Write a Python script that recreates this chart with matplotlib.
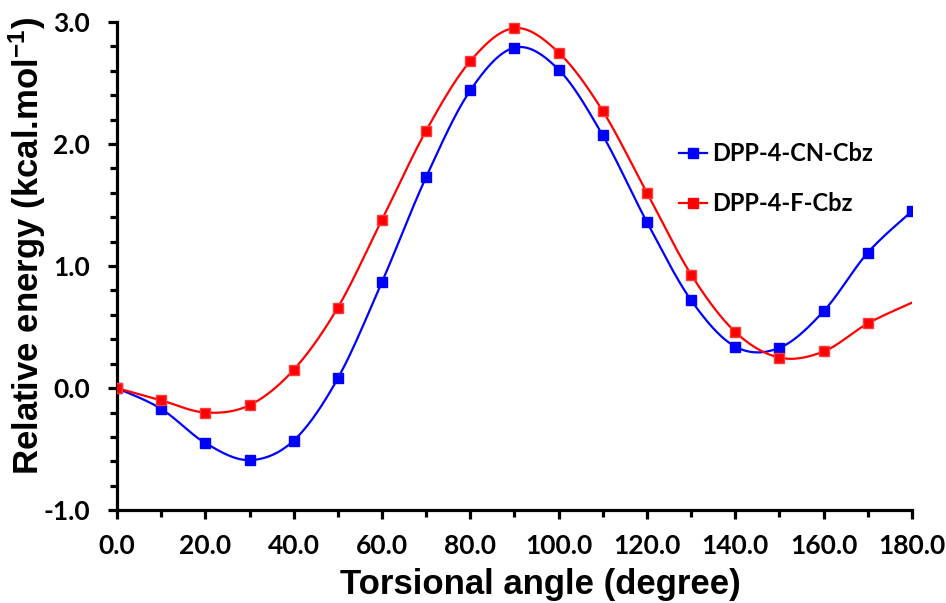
import numpy as np
import matplotlib
matplotlib.use("Agg")
import matplotlib.pyplot as plt
from matplotlib.ticker import MultipleLocator, FormatStrFormatter

# ------------------------------------------------------------
# données
# ------------------------------------------------------------
angles = [0, 10, 20, 30, 40, 50, 60, 70, 80, 90,
          100, 110, 120, 130, 140, 150, 160, 170, 180]

e_cn = [0.00, -0.17, -0.45, -0.59, -0.43, 0.08, 0.87, 1.73, 2.44, 2.79,
        2.61, 2.07, 1.36, 0.72, 0.34, 0.33, 0.63, 1.11, 1.45]

e_f = [0.00, -0.10, -0.20, -0.14, 0.15, 0.66, 1.38, 2.11, 2.68, 2.95,
       2.75, 2.27, 1.60, 0.93, 0.46, 0.25, 0.30, 0.53, 0.70]

labels = ["DPP-4-CN-Cbz", "DPP-4-F-Cbz"]


def smooth(x, y, n=30):
    # courbe lissée façon Excel (bezier / catmull-rom)
    x = np.asarray(x, float)
    y = np.asarray(y, float)
    px = np.concatenate([[x[0]], x, [x[-1]]])
    py = np.concatenate([[y[0]], y, [y[-1]]])
    xs, ys = [], []
    t = np.linspace(0, 1, n)
    for i in range(1, len(px) - 2):
        p0 = np.array([px[i], py[i]])
        p3 = np.array([px[i + 1], py[i + 1]])
        c1 = p0 + (p3 - np.array([px[i - 1], py[i - 1]])) / 6
        c2 = p3 - (np.array([px[i + 2], py[i + 2]]) - p0) / 6
        b = (np.outer((1 - t) ** 3, p0) + np.outer(3 * (1 - t) ** 2 * t, c1)
             + np.outer(3 * (1 - t) * t ** 2, c2) + np.outer(t ** 3, p3))
        xs.extend(b[:, 0])
        ys.extend(b[:, 1])
    return np.array(xs), np.array(ys)


tick_font = "Lato"
lab_font = "Liberation Sans"
plt.rcParams["mathtext.default"] = "regular"

fig = plt.figure(figsize=(9.46, 6.03), dpi=100)
ax = fig.add_axes([0.1237, 0.154, 0.8403, 0.8095])

sx, sy = smooth(angles, e_cn)
ax.plot(sx, sy, color="#0000ff", lw=1.6, zorder=3)
ax.plot(angles, e_cn, ls="none", marker="s", ms=6.8, color="#0000ff", zorder=4)

sx, sy = smooth(angles, e_f)
ax.plot(sx, sy, color="#ff0000", lw=1.6, zorder=3)
ax.plot(angles[:-1], e_f[:-1], ls="none", marker="s", ms=6.8, color="#ff0000",
        mec="#ff3a3a", zorder=4)

# legende (poignées ligne + marqueur)
h1, = ax.plot([], [], color="#0000ff", lw=1.6, marker="s", ms=6.8)
h2, = ax.plot([], [], color="#ff0000", lw=1.6, marker="s", ms=6.8)
ax.legend([h1, h2], labels, loc="upper left", bbox_to_anchor=(0.707, 0.754),
          frameon=False, handlelength=1.2, handletextpad=0.2, labelspacing=1.15,
          borderpad=0, borderaxespad=0,
          prop={"family": tick_font, "weight": "bold", "size": 17})

ax.set_xlim(0, 180)
ax.set_ylim(-1.0, 3.0)
ax.xaxis.set_major_locator(MultipleLocator(20))
ax.xaxis.set_minor_locator(MultipleLocator(10))
ax.yaxis.set_major_locator(MultipleLocator(1))
ax.yaxis.set_minor_locator(MultipleLocator(0.2))
ax.xaxis.set_major_formatter(FormatStrFormatter("%.1f"))
ax.yaxis.set_major_formatter(FormatStrFormatter("%.1f"))

for s in ["top", "right"]:
    ax.spines[s].set_visible(False)
for s in ["left", "bottom"]:
    ax.spines[s].set_linewidth(2.3)

ax.tick_params(which="major", direction="out", length=6.5, width=2.3)
ax.tick_params(which="minor", direction="out", length=5, width=2.3)
ax.tick_params(axis="x", which="major", pad=11)
ax.tick_params(axis="y", which="major", pad=13)
for lab in ax.get_xticklabels() + ax.get_yticklabels():
    lab.set_fontfamily(tick_font)
    lab.set_fontweight("bold")
    lab.set_fontsize(19)

ax.set_xlabel("Torsional angle (degree)", fontfamily=lab_font, fontweight="bold",
              fontsize=25)
ax.set_ylabel("Relative energy (kcal.mol$^{-1}$)", fontfamily=lab_font,
              fontweight="bold", fontsize=25)
ax.xaxis.set_label_coords(0.533, -0.119)
ax.yaxis.set_label_coords(-0.087, 0.541)

fig.savefig("out.png", dpi=100)
